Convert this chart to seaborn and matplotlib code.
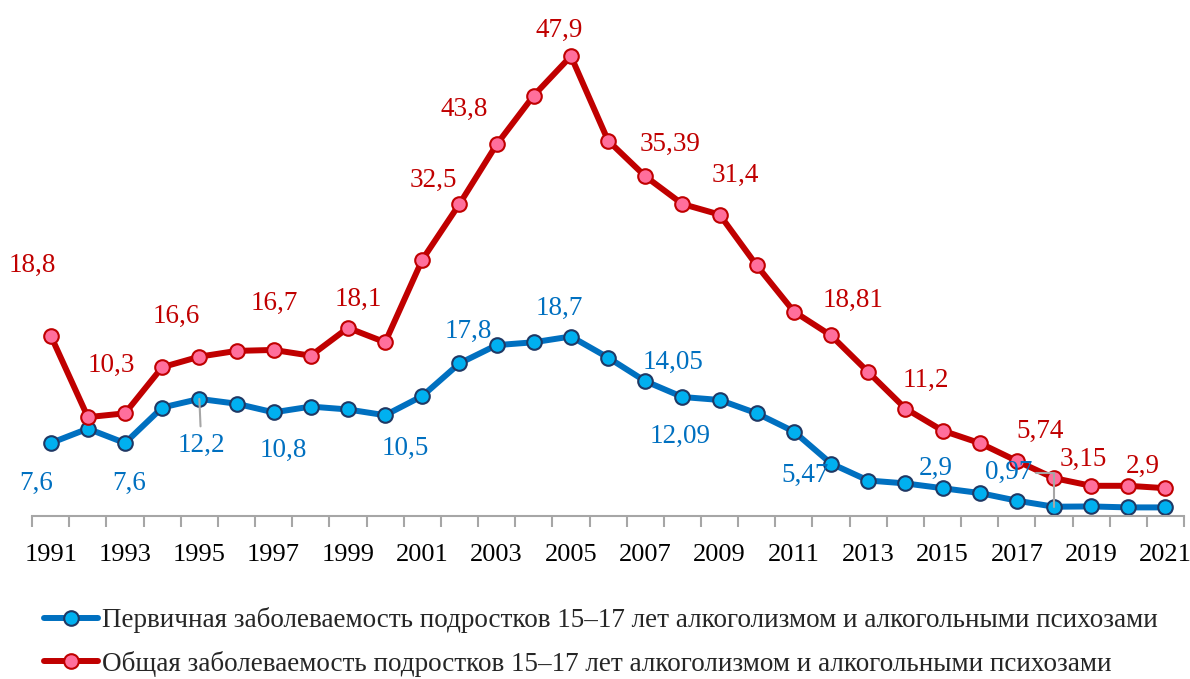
import numpy as np
import pandas as pd
import matplotlib
matplotlib.use("Agg")
import matplotlib.pyplot as plt
import seaborn as sns

years = list(range(1991, 2022))
primary = [7.6, 9.1, 7.6, 11.3, 12.2, 11.7, 10.8, 11.4, 11.1, 10.5,
           12.5, 15.9, 17.8, 18.1, 18.7, 16.5, 14.05, 12.4, 12.09, 10.7,
           8.8, 5.47, 3.7, 3.4, 2.9, 2.4, 1.6, 0.97, 1.0, 0.9, 0.9]
total = [18.8, 10.3, 10.7, 15.5, 16.6, 17.2, 17.3, 16.7, 19.6, 18.1,
         26.7, 32.5, 38.7, 43.8, 47.9, 39.1, 35.39, 32.5, 31.4, 26.1,
         21.3, 18.81, 15.0, 11.2, 8.9, 7.6, 5.74, 3.95, 3.15, 3.15, 2.9]
primary_name = "Первичная заболеваемость подростков 15–17 лет алкоголизмом и алкогольными психозами"
total_name = "Общая заболеваемость подростков 15–17 лет алкоголизмом и алкогольными психозами"

# labelled points: year -> label offset in pixels
primary_labels = {1991: (-15, -40), 1993: (4, -40), 1995: (2, -46), 1997: (10, -38),
                  2000: (20, -33), 2003: (-28, 14), 2005: (-12, 28), 2007: (28, 19),
                  2009: (-39, -36), 2012: (-26, -12), 2015: (-7, 20), 2018: (-45, 34)}
total_labels = {1991: (-18, 70), 1992: (23, 52), 1995: (-23, 40), 1998: (-37, 52),
                2000: (-27, 43), 2002: (-26, 24), 2004: (-70, -14), 2005: (-12, 26),
                2007: (25, 32), 2009: (16, 39), 2012: (22, 35), 2014: (20, 28),
                2017: (23, 30), 2019: (-8, 26), 2021: (-23, 22)}

RED = "#C00000"
BLUE = "#0070C0"

sns.set_theme(style="white")
plt.rcParams["font.family"] = ["Liberation Serif", "DejaVu Serif"]

df = pd.DataFrame({"year": years, "primary": primary, "total": total})

fig = plt.figure(figsize=(11.9, 6.79), dpi=100)
ax = fig.add_axes([0.027, 0.24, 0.968, 0.707])

sns.lineplot(data=df, x="year", y="primary", ax=ax, color=BLUE, lw=4.3,
             marker="o", markersize=10.5, markerfacecolor="#00B0F0",
             markeredgecolor="#1F3864", markeredgewidth=1.5, label=primary_name)
sns.lineplot(data=df, x="year", y="total", ax=ax, color=RED, lw=4.3,
             marker="o", markersize=10.5, markerfacecolor="#FF6F9C",
             markeredgecolor=RED, markeredgewidth=1.5, label=total_name)

fmt = lambda v: f"{v:g}".replace(".", ",")
for yr, (dx, dy) in primary_labels.items():
    v = primary[years.index(yr)]
    kw = {}
    if yr == 1995:
        kw["arrowprops"] = dict(arrowstyle="-", color="#A6A6A6", lw=1.5, shrinkA=2, shrinkB=0)
    if yr == 2018:
        kw["arrowprops"] = dict(arrowstyle="-", color="#A6A6A6", lw=1.5, shrinkA=0, shrinkB=0,
                                connectionstyle="angle,angleA=0,angleB=90,rad=0")
    ax.annotate(fmt(v), (yr, v), xytext=(dx, dy), textcoords="offset pixels",
                ha="center", va="center", color=BLUE, fontsize=19.5, **kw)
for yr, (dx, dy) in total_labels.items():
    v = total[years.index(yr)]
    ax.annotate(fmt(v), (yr, v), xytext=(dx, dy), textcoords="offset pixels",
                ha="center", va="center", color=RED, fontsize=19.5)

ax.set_xlim(years[0] - 0.5, years[-1] + 0.5)
ax.set_ylim(0, 50)
ax.set_xticks(years[::2])
ax.set_xticklabels([str(y) for y in years[::2]], fontsize=19)
ax.set_xticks(np.arange(years[0] - 0.5, years[-1] + 1, 1), minor=True)
ax.tick_params(axis="x", which="major", length=0, pad=20, colors="black")
ax.tick_params(axis="x", which="minor", length=8, width=1.5, color="#A6A6A6", bottom=True)
ax.set_yticks([])
ax.set_xlabel("")
ax.set_ylabel("")
for s in ["top", "right", "left"]:
    ax.spines[s].set_visible(False)
ax.spines["bottom"].set_color("#A6A6A6")
ax.spines["bottom"].set_linewidth(1.5)

handles, labels = ax.get_legend_handles_labels()
ax.get_legend().remove()
fig.legend(handles, labels, loc="upper left", bbox_to_anchor=(0.037, 0.106),
           frameon=False, fontsize=19.5, handlelength=2.0, handletextpad=0.15,
           labelspacing=0.65, borderpad=0, borderaxespad=0)

fig.savefig("out.png", dpi=100)
